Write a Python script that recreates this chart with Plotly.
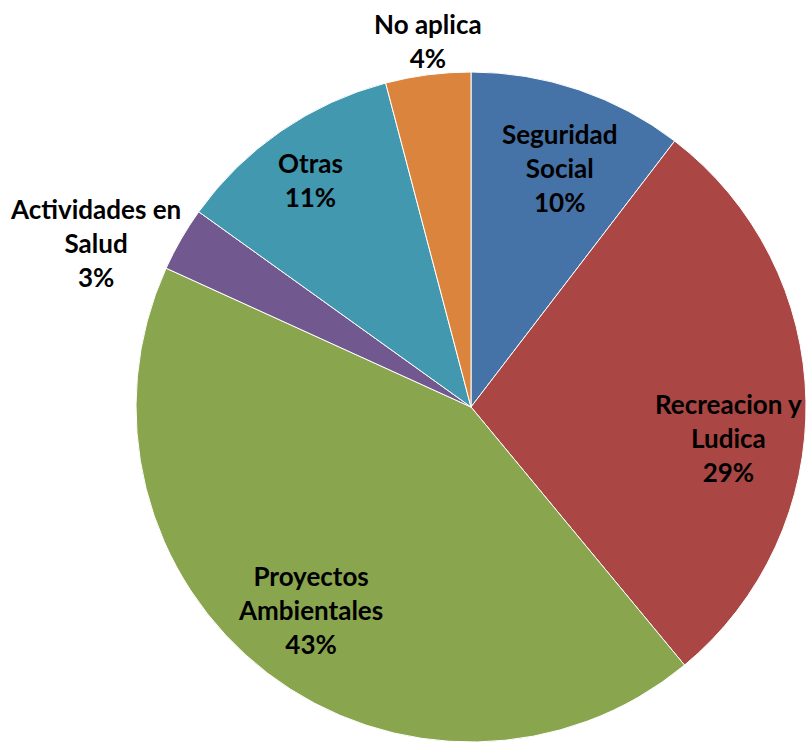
import plotly.graph_objects as go

labels = ["Seguridad Social", "Recreacion y Ludica", "Proyectos Ambientales",
          "Actividades en Salud", "Otras", "No aplica"]
display_labels = ["Seguridad<br>Social", "Recreacion y<br>Ludica", "Proyectos<br>Ambientales",
                  "Actividades en<br>Salud", "Otras", "No aplica"]
values = [10.4, 28.6, 42.8, 3.1, 11.0, 4.1]
colors = ["#4572A7", "#AA4643", "#89A54E", "#71588F", "#4198AF", "#DB843D"]

W, H = 806, 744
# label centres in figure pixels
label_px = [(560, 168), (728, 438), (310, 610), (95, 243), (310, 180), (428, 41)]

total = sum(values)
fig = go.Figure(go.Pie(
    labels=labels, values=values, sort=False, direction="clockwise", rotation=0,
    marker=dict(colors=colors, line=dict(color="white", width=1)),
    textinfo="none", hoverinfo="label+percent", showlegend=False,
    domain=dict(x=[136 / W, 1.0], y=[2 / H, (H - 72) / H]),
))

for lab, v, (px, py) in zip(display_labels, values, label_px):
    fig.add_annotation(
        x=px / W, y=1 - py / H, xref="paper", yref="paper",
        text=f"<b>{lab}<br>{round(v / total * 100)}%</b>",
        showarrow=False, xanchor="center", yanchor="middle", align="center",
        font=dict(family="Lato", size=26, color="black"),
    )

fig.update_layout(width=W, height=H, margin=dict(l=0, r=0, t=0, b=0),
                  paper_bgcolor="white", plot_bgcolor="white")
fig.write_html("out.html", config={"displayModeBar": False},
               post_script="document.body.style.margin='0';document.body.style.overflow='hidden';")
